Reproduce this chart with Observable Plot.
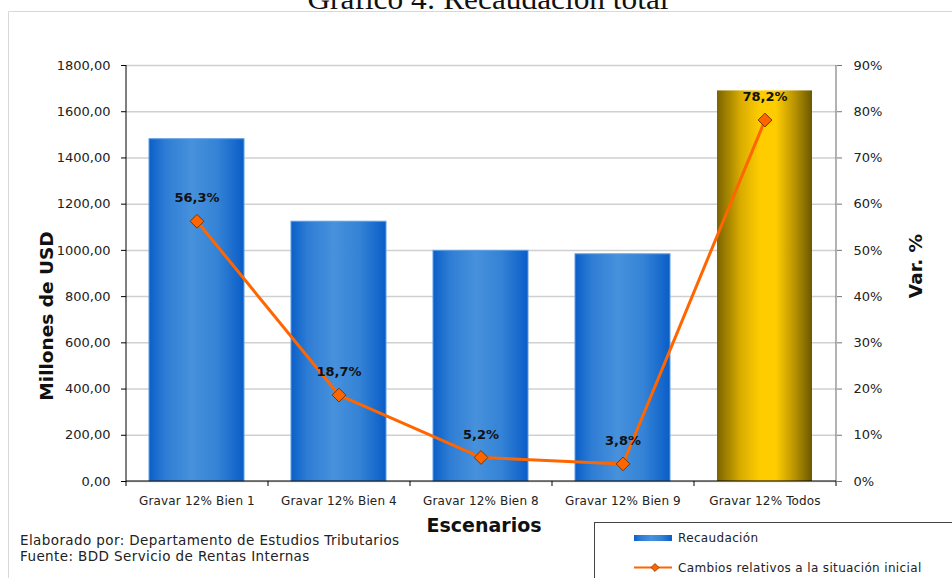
<!DOCTYPE html>
<html>
<head>
<meta charset="utf-8">
<script src="https://cdn.jsdelivr.net/npm/d3@7"></script>
<script src="https://cdn.jsdelivr.net/npm/@observablehq/plot@0.6"></script>
<style>
  html, body { margin: 0; padding: 0; background: #fff; }
  #chart { width: 952px; height: 578px; overflow: hidden; }
</style>
</head>
<body>
<div id="chart"></div>
<script>
// Escenarios de gravamen y recaudación estimada (millones de USD)
const escenarios = [
  "Gravar 12% Bien 1",
  "Gravar 12% Bien 4",
  "Gravar 12% Bien 8",
  "Gravar 12% Bien 9",
  "Gravar 12% Todos"
];
const recaudacion = [1481, 1124, 998, 983, 1690];
// Cambio relativo a la situación inicial (%)
const variacion = [56.3, 18.7, 5.2, 3.8, 78.2];

const ticksMillones = [0, 200, 400, 600, 800, 1000, 1200, 1400, 1600, 1800];
const ticksVariacion = [0, 10, 20, 30, 40, 50, 60, 70, 80, 90];

// El eje derecho (0–90 %) comparte la escala del izquierdo (0–1800)
const factor = ticksMillones[ticksMillones.length - 1] / ticksVariacion[ticksVariacion.length - 1];

const filas = escenarios.map((e, i) => ({
  escenario: e,
  recaudacion: recaudacion[i],
  variacion: variacion[i],
  todos: e.endsWith("Todos")
}));

const coma = (v, d) => v.toFixed(d).replace(".", ",");

const plot = Plot.plot({
  width: 952,
  height: 578,
  marginTop: 65,
  marginRight: 116,
  marginBottom: 97,
  marginLeft: 126,
  style: { fontFamily: "DejaVu Sans", fontSize: "13px", color: "#222", background: "#fff", overflow: "visible" },
  x: { domain: escenarios, paddingInner: 0.33, paddingOuter: 0.165, label: null },
  y: { domain: [0, 1800], label: null },
  marks: [
    Plot.gridY(ticksMillones, { stroke: "#d0d0d0", strokeOpacity: 1, strokeWidth: 1.5 }),
    Plot.barY(filas.filter(d => !d.todos), {
      x: "escenario", y: "recaudacion", fill: "url(#gradAzul)", stroke: "#5d9de3", strokeWidth: 1
    }),
    Plot.barY(filas.filter(d => d.todos), {
      x: "escenario", y: "recaudacion", fill: "url(#gradOro)"
    }),
    Plot.axisY(ticksMillones, {
      anchor: "left", tickSize: 5, tickPadding: 11, stroke: "#000",
      tickFormat: d => coma(d, 2), fontSize: 13, label: null
    }),
    Plot.axisY(ticksVariacion.map(t => t * factor), {
      anchor: "right", tickSize: 5, tickPadding: 12, stroke: "#777",
      tickFormat: d => Math.round(d / factor) + "%", fontSize: 13, label: null
    }),
    Plot.axisX({ tickSize: 0, tickPadding: 15, fontSize: 12, label: null, className: "cats" }),
    Plot.lineY(filas, {
      x: "escenario", y: d => d.variacion * factor, stroke: "#ff6600", strokeWidth: 3
    }),
    Plot.dot(filas, {
      x: "escenario", y: d => d.variacion * factor, symbol: "diamond2", r: 6.2,
      fill: "#ff6600", stroke: "#7a3500", strokeWidth: 1
    }),
    Plot.text(filas, {
      x: "escenario", y: d => d.variacion * factor, text: d => coma(d.variacion, 1) + "%",
      dy: -23, fontWeight: "bold", fontSize: 13, fill: "#111"
    })
  ]
});

const svg = d3.select(plot);
svg.selectAll(".cats text").attr("letter-spacing", 0.15);
const defs = svg.insert("defs", ":first-child");

function gradiente(id, paradas) {
  const g = defs.append("linearGradient").attr("id", id)
    .attr("x1", "0").attr("y1", "0").attr("x2", "1").attr("y2", "0");
  paradas.forEach(([o, c]) => g.append("stop").attr("offset", o).attr("stop-color", c));
}
gradiente("gradAzul", [[0, "#0b5fc9"], [0.18, "#2f7dd4"], [0.45, "#4791dc"], [0.72, "#3483d6"], [1, "#0a5dc8"]]);
gradiente("gradOro", [[0, "#7a6400"], [0.25, "#d9ac00"], [0.45, "#ffcc00"], [0.62, "#ffcc00"], [0.82, "#b89200"], [1, "#6b5800"]]);

// Líneas de ejes y marcas entre categorías, a partir de las escalas
const sx = plot.scale("x");
const sy = plot.scale("y");
const [x0, x1] = sx.range;
const [yb, yt] = sy.range;
const ejes = svg.append("g");
ejes.append("line").attr("x1", x0).attr("x2", x0).attr("y1", yt).attr("y2", yb).attr("stroke", "#000");
ejes.append("line").attr("x1", x1).attr("x2", x1).attr("y1", yt).attr("y2", yb).attr("stroke", "#666");
ejes.append("line").attr("x1", x0).attr("x2", x1).attr("y1", yb).attr("y2", yb).attr("stroke", "#000");
for (let i = 0; i <= escenarios.length; i++) {
  const x = x0 + i * sx.step;
  ejes.append("line").attr("x1", x).attr("x2", x).attr("y1", yb).attr("y2", yb + 5).attr("stroke", "#000");
}

// Marco del gráfico
svg.append("path").attr("d", "M8.5,578V11.5H952").attr("fill", "none").attr("stroke", "#d8d8d8");

// Título
svg.append("text").attr("x", 488).attr("y", 9).attr("text-anchor", "middle")
  .attr("font-family", "Liberation Serif").attr("font-size", 29).attr("fill", "#111")
  .attr("textLength", 361).attr("lengthAdjust", "spacingAndGlyphs")
  .text("Gráfico 4: Recaudación total");

// Títulos de ejes
svg.append("text").attr("transform", "translate(53,316) rotate(-90)").attr("text-anchor", "middle")
  .attr("font-family", "DejaVu Sans").attr("font-weight", "bold").attr("font-size", 18.5).attr("fill", "#111")
  .text("Millones de USD");
svg.append("text").attr("transform", "translate(922,266) rotate(-90)").attr("text-anchor", "middle")
  .attr("font-family", "DejaVu Sans").attr("font-weight", "bold").attr("font-size", 18.5).attr("fill", "#111")
  .text("Var. %");
svg.append("text").attr("x", 484).attr("y", 532).attr("text-anchor", "middle")
  .attr("font-family", "DejaVu Sans").attr("font-weight", "bold").attr("font-size", 19).attr("fill", "#111")
  .text("Escenarios");

// Fuente
const fuente = svg.append("g").attr("font-family", "DejaVu Sans").attr("font-size", 13.5)
  .attr("letter-spacing", 0.4).attr("fill", "#222").attr("text-anchor", "start");
fuente.append("text").attr("x", 20).attr("y", 545).text("Elaborado por: Departamento de Estudios Tributarios");
fuente.append("text").attr("x", 20).attr("y", 561).text("Fuente: BDD Servicio de Rentas Internas");

// Leyenda
const ley = svg.append("g").attr("text-anchor", "start").attr("font-family", "DejaVu Sans")
  .attr("font-size", 12).attr("letter-spacing", 0.35).attr("fill", "#222");
ley.append("rect").attr("x", 594.5).attr("y", 522.5).attr("width", 400).attr("height", 100)
  .attr("fill", "#fff").attr("stroke", "#444");
ley.append("rect").attr("x", 634).attr("y", 535).attr("width", 38).attr("height", 6).attr("fill", "url(#gradAzul)");
ley.append("text").attr("x", 678).attr("y", 538).attr("dy", "0.35em").text("Recaudación");
ley.append("line").attr("x1", 634).attr("x2", 672).attr("y1", 567.5).attr("y2", 567.5)
  .attr("stroke", "#ff6600").attr("stroke-width", 2);
ley.append("path").attr("d", d3.symbol(d3.symbolDiamond2, 40)()).attr("transform", "translate(655,567.5)")
  .attr("fill", "#ff6600").attr("stroke", "#7a3500").attr("stroke-width", 0.8);
ley.append("text").attr("x", 678).attr("y", 567.5).attr("dy", "0.35em")
  .text("Cambios relativos a la situación inicial");

document.getElementById("chart").appendChild(plot);
</script>
</body>
</html>
